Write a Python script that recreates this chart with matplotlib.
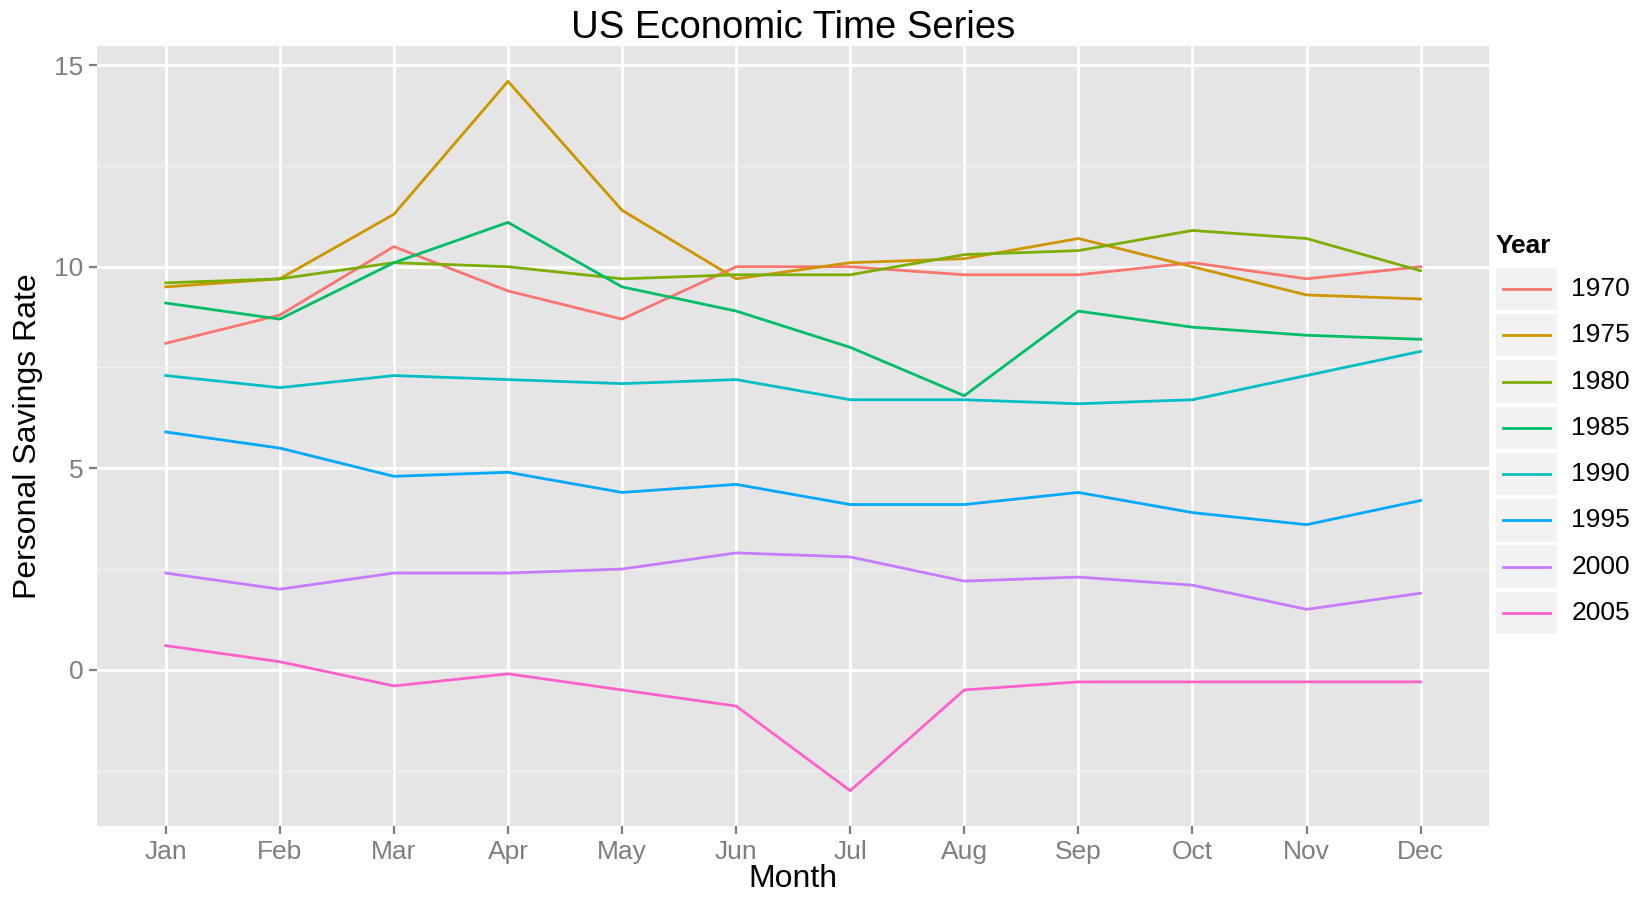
#!/usr/bin/env python3
import numpy as np
import matplotlib
matplotlib.use("Agg")
import matplotlib.pyplot as plt
from matplotlib.lines import Line2D
from matplotlib.patches import Rectangle

months = ["Jan", "Feb", "Mar", "Apr", "May", "Jun",
          "Jul", "Aug", "Sep", "Oct", "Nov", "Dec"]
years = ["1970", "1975", "1980", "1985", "1990", "1995", "2000", "2005"]

rate_1970 = [8.1, 8.8, 10.5, 9.4, 8.7, 10.0, 10.0, 9.8, 9.8, 10.1, 9.7, 10.0]
rate_1975 = [9.5, 9.7, 11.3, 14.6, 11.4, 9.7, 10.1, 10.2, 10.7, 10.0, 9.3, 9.2]
rate_1980 = [9.6, 9.7, 10.1, 10.0, 9.7, 9.8, 9.8, 10.3, 10.4, 10.9, 10.7, 9.9]
rate_1985 = [9.1, 8.7, 10.1, 11.1, 9.5, 8.9, 8.0, 6.8, 8.9, 8.5, 8.3, 8.2]
rate_1990 = [7.3, 7.0, 7.3, 7.2, 7.1, 7.2, 6.7, 6.7, 6.6, 6.7, 7.3, 7.9]
rate_1995 = [5.9, 5.5, 4.8, 4.9, 4.4, 4.6, 4.1, 4.1, 4.4, 3.9, 3.6, 4.2]
rate_2000 = [2.4, 2.0, 2.4, 2.4, 2.5, 2.9, 2.8, 2.2, 2.3, 2.1, 1.5, 1.9]
rate_2005 = [0.6, 0.2, -0.4, -0.1, -0.5, -0.9, -3.0, -0.5, -0.3, -0.3, -0.3, -0.3]

series = [rate_1970, rate_1975, rate_1980, rate_1985,
          rate_1990, rate_1995, rate_2000, rate_2005]

# ggplot2 default hue palette for 8 groups
colors = ["#F8766D", "#CD9600", "#7CAE00", "#00BE67",
          "#00BFC4", "#00A9FF", "#C77CFF", "#FF61CC"]

plt.rcParams["font.family"] = ["Liberation Sans", "DejaVu Sans"]

fig = plt.figure(figsize=(16.49, 8.99), dpi=100)
ax = fig.add_axes([0.059, 0.081, 0.844, 0.868])
ax.set_facecolor("#E5E5E5")

x = np.arange(len(months))
for vals, col in zip(series, colors):
    ax.plot(x, vals, color=col, linewidth=2.0, zorder=3)

all_vals = np.concatenate([np.array(s) for s in series])
lo, hi = all_vals.min(), all_vals.max()
pad = (hi - lo) * 0.05
ax.set_ylim(lo - pad, hi + pad)
ax.set_xlim(-0.6, len(months) - 1 + 0.6)

ax.set_xticks(x)
ax.set_xticklabels(months)
ax.set_yticks([0, 5, 10, 15])
ax.set_yticks([-2.5, 2.5, 7.5, 12.5], minor=True)

ax.grid(which="major", color="white", linewidth=2.0, zorder=1)
ax.grid(which="minor", axis="y", color="#F2F2F2", linewidth=1.0, zorder=1)
ax.set_axisbelow(True)
for s in ax.spines.values():
    s.set_visible(False)

ax.tick_params(which="major", length=6, width=1.6, color="#7F7F7F",
               labelcolor="#7F7F7F", labelsize=19, pad=4)
ax.tick_params(which="minor", length=0)

ax.set_title("US Economic Time Series", fontsize=27.5, pad=6)
ax.set_xlabel("Month", fontsize=23, labelpad=0)
ax.set_ylabel("Personal Savings Rate", fontsize=23, labelpad=8)

# legend, drawn ggplot style with grey key boxes
lax = fig.add_axes([0.905, 0.29, 0.092, 0.458])
lax.set_xlim(0, 1)
lax.set_ylim(len(years) + 0.9, 0)
lax.axis("off")
lax.text(0.02, 0.42, "Year", fontsize=19, fontweight="bold", va="center")
for i, (yr, col) in enumerate(zip(years, colors)):
    yc = i + 1.35
    lax.add_patch(Rectangle((0.02, yc - 0.48), 0.41, 0.96,
                            facecolor="#F2F2F2", edgecolor="white", lw=1.5))
    lax.add_line(Line2D([0.07, 0.38], [yc, yc], color=col, lw=2.0))
    lax.text(0.52, yc, yr, fontsize=19, va="center")

fig.savefig("out.png", dpi=100)
